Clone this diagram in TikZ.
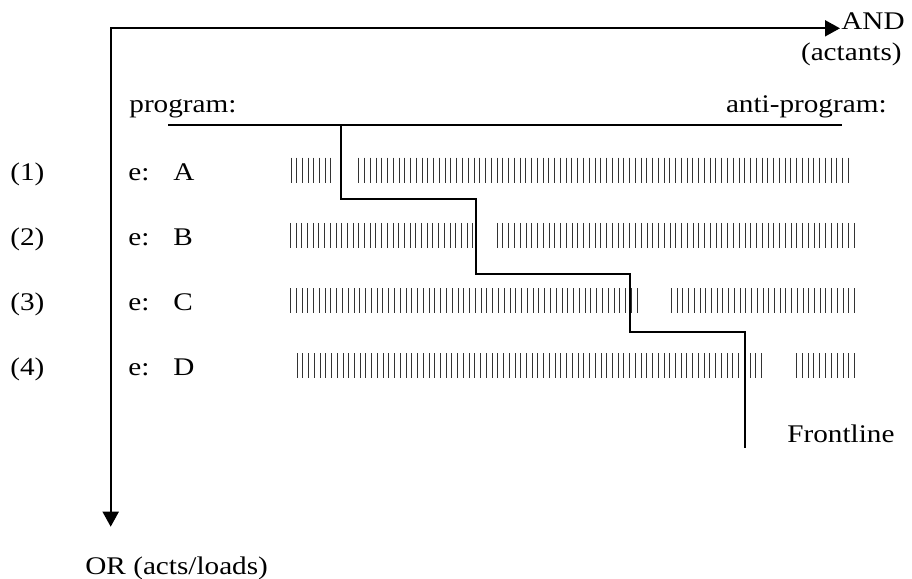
\documentclass[tikz,border=0pt]{standalone}
\usepackage{fontspec}
\setmainfont[FakeStretch=1.15]{Liberation Serif}
\usetikzlibrary{arrows.meta}
\begin{document}
\begin{tikzpicture}[x=0.5pt,y=-0.5pt]
  \tikzstyle{axis}=[draw,line width=0.95pt,{Triangle[length=7.5pt,width=8pt]}-{Triangle[length=7.5pt,width=8pt]}]
  \tikzstyle{label}=[inner sep=0pt,font=\fontsize{12.7}{15}\selectfont]
  \tikzstyle{bar}=[draw,line width=0.55pt,black!80]
  \tikzstyle{front}=[draw,line width=1pt]

    \useasboundingbox (0,0) rectangle (912,579);

    \coordinate (o) at (110.7,28.3);
    \coordinate (x) at (840,28.3);
    \coordinate (y) at (110.7,526.7);
    \path[axis] (x) -- (o) -- (y);

    \node[label,anchor=base west] (and) at (841,29) {AND};
    \node[label,anchor=base east] (actants) at (902,60) {(actants)};
    \node[label,anchor=base west] (prog) at (129,112) {program:};
    \node[label,anchor=base east] (anti) at (887,112) {anti-program:};

    \coordinate (pl) at (168,125);
    \coordinate (pr) at (841.7,125);
    \path[draw,line width=0.65pt] (pl) -- (pr);

    \foreach \y/\n/\l in {180/1/A,245.3/2/B,310.6/3/C,375.9/4/D} {
      \node[label,anchor=base west] (n\n) at (10,\y) {(\n)};
      \node[label,anchor=base west] (e\n) at (128,\y) {e:};
      \node[label,anchor=base west] (l\n) at (173,\y) {\l};
    }

    \foreach \a/\b/\n/\y in {290.7/330.3/8/180, 358.3/848/86/180,
                             290/472.3/33/245.3, 496.7/854/63/245.3,
                             290/636.7/61/310.6, 671/854/33/310.6,
                             296.7/761/82/375.9, 796/854.3/11/375.9}
      \foreach \i in {1,...,\n}
        \path[bar] ({round(\a+(\i-1)*((\b-\a)/(\n-1)))+0.5},\y-22.5) -- ++(0,25);

    \coordinate (f0) at (360,125);
    \coordinate (f1) at (341,125);
    \coordinate (f2) at (341,198.5);
    \coordinate (f3) at (476,198.5);
    \coordinate (f4) at (476,274);
    \coordinate (f5) at (630,274);
    \coordinate (f6) at (630,332);
    \coordinate (f7) at (744.5,332);
    \coordinate (f8) at (744.5,448);
    \path[front] (f0) -- (f1) -- (f2) -- (f3) -- (f4) -- (f5) -- (f6) -- (f7) -- (f8);

    \node[label,anchor=base west] (frontline) at (787,442) {Frontline};
    \node[label,anchor=base west] (or) at (85,574) {OR (acts/loads)};
\end{tikzpicture}
\end{document}
